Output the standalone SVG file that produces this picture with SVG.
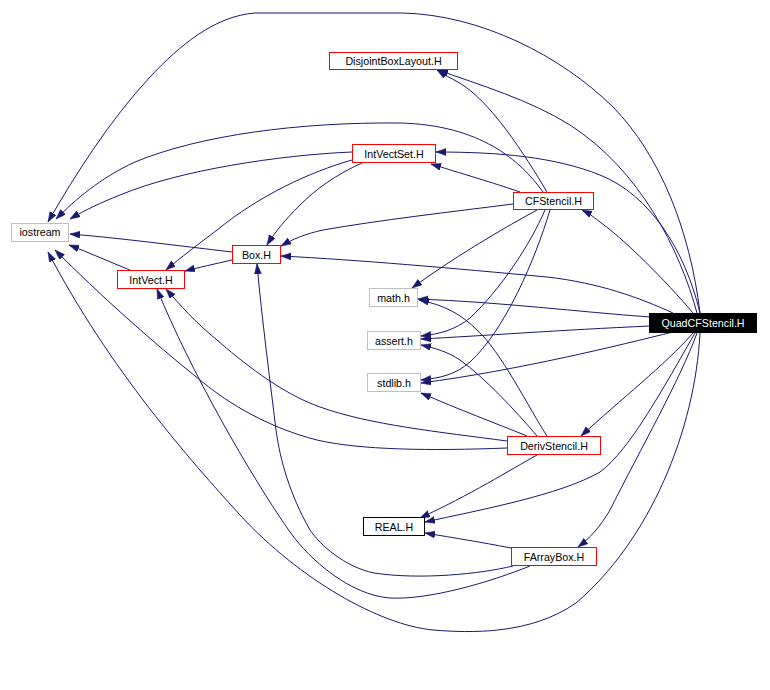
<svg xmlns="http://www.w3.org/2000/svg" width="770" height="690" viewBox="0 0 770 690">
<defs>
<marker id="arr" markerUnits="userSpaceOnUse" markerWidth="11" markerHeight="8" refX="10" refY="3.5" orient="auto">
<path d="M0,0 L10,3.5 L0,7 z" fill="#191970" stroke="#191970" stroke-width="0.5"/>
</marker>
<style>
.e{fill:none;stroke:#191970;stroke-width:1;marker-end:url(#arr)}
.n rect{fill:#fff;stroke-width:1}
.r rect{stroke:#ff0000}
.g rect{stroke:#bfbfbf}
.b rect{stroke:#000}
text{font-family:"Liberation Sans",Arial,sans-serif;font-size:10.7px;text-anchor:middle;fill:#000}
</style>
</defs>
<rect width="770" height="690" fill="#fff"/>
<g id="edges">
<path class="e" d="M700,313 C690,230 660,155 613,107 C560,55 480,15 403,13 L255,13 C215,16 180,45 150,77 C110,120 75,175 48,222"/>
<path class="e" d="M700,333 C695,430 650,540 576,603 C530,635 470,633 433,630 C380,625 300,580 240,515 C190,460 110,370 48,252"/>
<path class="e" d="M697,313 C680,250 640,170 570,125 C530,100 480,85 438,70"/>
<path class="e" d="M700,313 C685,250 650,195 600,175 C555,157 500,152 436,152"/>
<path class="e" d="M693,313 C665,280 625,240 600,222 C595,218 590,214 582,210"/>
<path class="e" d="M673,313 C640,298 600,283 547,277 C450,268 360,260 281,256"/>
<path class="e" d="M650,317 C580,312 500,302 418,299"/>
<path class="e" d="M650,326 C560,330 480,336 421,339"/>
<path class="e" d="M673,332 C620,345 520,370 421,383"/>
<path class="e" d="M693,333 C665,365 620,400 581,436"/>
<path class="e" d="M695,333 C665,385 630,450 600,472 C560,495 480,510 425,522"/>
<path class="e" d="M697,333 C680,380 640,450 610,510 C600,527 590,538 578,547"/>
<path class="e" d="M547,192 C525,155 490,100 458,82 C450,78 445,75 437,70"/>
<path class="e" d="M543,192 C520,160 480,125 400,123 C300,122 200,135 135,162 C100,178 75,200 56,219"/>
<path class="e" d="M520,192 C500,185 470,176 431,164"/>
<path class="e" d="M513,204 C450,212 380,220 323,230 C305,234 293,239 281,246"/>
<path class="e" d="M537,210 C500,230 450,260 412,288"/>
<path class="e" d="M545,210 C530,245 500,290 470,318 C455,330 440,334 421,336"/>
<path class="e" d="M550,210 C535,260 505,330 470,362 C455,375 440,378 421,380"/>
<path class="e" d="M352,152 C280,155 180,170 120,195 C100,203 85,210 70,219"/>
<path class="e" d="M352,160 C310,172 260,195 217,230 C200,243 180,258 166,270"/>
<path class="e" d="M362,163 C335,175 315,190 300,205 C285,220 275,232 267,245"/>
<path class="e" d="M232,252 C180,246 120,238 70,234"/>
<path class="e" d="M232,260 C215,264 200,267 185,271"/>
<path class="e" d="M130,270 C110,262 90,253 69,245"/>
<path class="e" d="M547,436 C530,410 500,350 477,330 C462,315 445,305 419,300"/>
<path class="e" d="M537,436 C515,410 485,378 460,360 C448,352 435,348 421,345"/>
<path class="e" d="M527,436 C495,423 460,410 421,393"/>
<path class="e" d="M537,455 C510,470 470,495 420,518"/>
<path class="e" d="M507,448 C430,451 360,450 317,440 C270,428 230,405 200,380 C150,340 100,295 55,250"/>
<path class="e" d="M507,441 C440,432 370,425 320,407 C280,393 240,360 217,340 C195,322 180,305 166,289"/>
<path class="e" d="M511,548 C480,542 455,538 425,533"/>
<path class="e" d="M530,566 C490,582 430,600 390,598 C350,595 310,560 290,532 C250,475 190,370 157,289"/>
<path class="e" d="M513,566 C480,574 420,580 374,573 C345,567 320,545 310,530 C290,495 280,460 276,430 C270,380 262,320 257,264"/>
</g>
<g id="iostream" class="n g"><rect x="11.5" y="223.5" width="57" height="18"/><text x="40" y="236">iostream</text></g>
<g id="IntVect" class="n r"><rect x="117.5" y="270.5" width="67" height="18"/><text x="151" y="283.5">IntVect.H</text></g>
<g id="Box" class="n r"><rect x="232.5" y="245.5" width="48" height="18"/><text x="256.5" y="258.5">Box.H</text></g>
<g id="DisjointBoxLayout" class="n r"><rect x="329.5" y="52.5" width="128" height="17"/><text x="393.5" y="65">DisjointBoxLayout.H</text></g>
<g id="IntVectSet" class="n r"><rect x="352.5" y="144.5" width="83" height="18"/><text x="394" y="157.5">IntVectSet.H</text></g>
<g id="CFStencil" class="n r"><rect x="513.5" y="192.5" width="80" height="17"/><text x="553.5" y="205">CFStencil.H</text></g>
<g id="math" class="n g"><rect x="369.5" y="288.5" width="48" height="18"/><text x="393.5" y="301.5">math.h</text></g>
<g id="assert" class="n g"><rect x="367.5" y="331.5" width="53" height="18"/><text x="394" y="344.5">assert.h</text></g>
<g id="stdlib" class="n g"><rect x="367.5" y="373.5" width="53" height="18"/><text x="394" y="386.5">stdlib.h</text></g>
<g id="DerivStencil" class="n r"><rect x="507.5" y="436.5" width="93" height="18"/><text x="554" y="449.5">DerivStencil.H</text></g>
<g id="REAL" class="n b"><rect x="363.5" y="517.5" width="61" height="18"/><text x="394" y="530.5">REAL.H</text></g>
<g id="FArrayBox" class="n r"><rect x="511.5" y="547.5" width="85" height="18"/><text x="554" y="560.5">FArrayBox.H</text></g>
<g id="QuadCFStencil"><rect x="649" y="313" width="108" height="20" fill="#000"/><text x="703" y="327" style="fill:#fff">QuadCFStencil.H</text></g>
</svg>
